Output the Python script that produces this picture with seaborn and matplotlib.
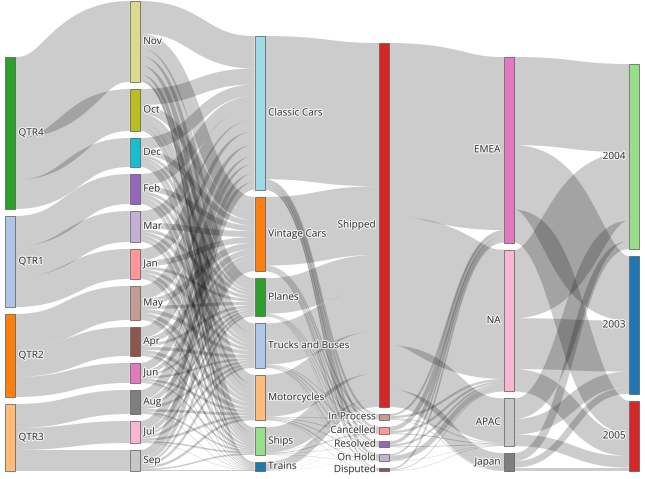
import numpy as np
import matplotlib
matplotlib.use("Agg")
import matplotlib.pyplot as plt
import matplotlib.patheffects as pe
from matplotlib.patches import Polygon, Rectangle
import seaborn as sns

sns.set_style("white")
plt.rcParams['font.family'] = ['Open Sans', 'DejaVu Sans']

# ---------------- data (sales in $K) ----------------
quarters = ["QTR4", "QTR1", "QTR2", "QTR3"]
months = ["Nov", "Oct", "Dec", "Feb", "Mar", "Jan", "May", "Apr", "Jun", "Aug", "Jul", "Sep"]
month_quarter = ["QTR4", "QTR4", "QTR4", "QTR1", "QTR1", "QTR1",
                 "QTR2", "QTR2", "QTR2", "QTR3", "QTR3", "QTR3"]
products = ["Classic Cars", "Vintage Cars", "Planes", "Trucks and Buses",
            "Motorcycles", "Ships", "Trains"]
month_product = [
    [830, 380, 190, 240, 235, 145, 48],   # Nov
    [410, 215, 110, 118, 120, 74, 25],    # Oct
    [295, 135, 70, 80, 90, 55, 15],       # Dec
    [305, 140, 75, 90, 85, 52, 19],       # Feb
    [300, 155, 80, 88, 95, 55, 18],       # Mar
    [295, 148, 76, 85, 92, 52, 18],       # Jan
    [345, 160, 85, 98, 100, 60, 20],      # May
    [285, 145, 72, 85, 88, 50, 15],       # Apr
    [200, 95, 50, 58, 60, 36, 12],        # Jun
    [240, 118, 60, 68, 70, 43, 14],       # Aug
    [220, 105, 55, 65, 65, 40, 12],       # Jul
    [205, 100, 52, 60, 62, 40, 17],       # Sep
]
statuses = ["Shipped", "In Process", "Cancelled", "Resolved", "On Hold", "Disputed"]
product_status = [
    [3657, 55, 60, 60, 70, 28],
    [1752, 30, 40, 25, 35, 14],
    [907, 15, 20, 12, 15, 6],
    [1047, 15, 25, 20, 20, 8],
    [1072, 15, 20, 20, 25, 10],
    [643, 10, 25, 10, 10, 4],
    [214, 5, 4, 4, 4, 2],
]
territories = ["EMEA", "NA", "APAC", "Japan"]
status_territory = [
    [4420, 3300, 1130, 442],
    [50, 60, 20, 15],
    [110, 60, 24, 0],
    [80, 50, 21, 0],
    [40, 130, 9, 0],
    [40, 20, 12, 0],
]
years = ["2004", "2003", "2005"]
territory_year = [
    [2250, 1650, 840],
    [1750, 1300, 570],
    [520, 400, 296],
    [204, 167, 86],
]

# ---------------- colours (tab20) ----------------
pal = sns.color_palette("tab20")
color_idx = {
    "QTR4": 4, "QTR1": 1, "QTR2": 2, "QTR3": 3,
    "Nov": 17, "Oct": 16, "Dec": 18, "Feb": 8, "Mar": 9, "Jan": 7,
    "May": 11, "Apr": 10, "Jun": 12, "Aug": 14, "Jul": 13, "Sep": 15,
    "Classic Cars": 19, "Vintage Cars": 2, "Planes": 4, "Trucks and Buses": 1,
    "Motorcycles": 3, "Ships": 5, "Trains": 0,
    "Shipped": 6, "In Process": 11, "Cancelled": 7, "Resolved": 8,
    "On Hold": 9, "Disputed": 10,
    "EMEA": 12, "NA": 13, "APAC": 15, "Japan": 14,
    "2004": 5, "2003": 0, "2005": 6,
}

# ---------------- build links ----------------
columns = [quarters, months, products, statuses, territories, years]
links = []  # (src, tgt, value)
for m, q, row in zip(months, month_quarter, month_product):
    links.append((q, m, sum(row)))
for m, row in zip(months, month_product):
    for p, v in zip(products, row):
        links.append((m, p, v))
for p, row in zip(products, product_status):
    for s, v in zip(statuses, row):
        links.append((p, s, v))
for s, row in zip(statuses, status_territory):
    for t, v in zip(territories, row):
        links.append((s, t, v))
for t, row in zip(territories, territory_year):
    for y, v in zip(years, row):
        links.append((t, y, v))
links = [l for l in links if l[2] > 0]

node_in, node_out = {}, {}
for s, t, v in links:
    node_out[s] = node_out.get(s, 0) + v
    node_in[t] = node_in.get(t, 0) + v
node_val = {n: max(node_in.get(n, 0), node_out.get(n, 0)) for col in columns for n in col}

# ---------------- layout (pixel-like data coords) ----------------
W, H = 645, 479
node_w = 10
pad = 7
top, bottom = 1, 471
x_left = [5 + i * 124.8 for i in range(len(columns))]
k = min((bottom - top - pad * (len(c) - 1)) / sum(node_val[n] for n in c) for c in columns)

pos = {}
for ci, col in enumerate(columns):
    total_h = sum(node_val[n] * k for n in col) + pad * (len(col) - 1)
    y = bottom - total_h
    for n in col:
        h = node_val[n] * k
        pos[n] = (x_left[ci], y, y + h)
        y += h + pad


def ymid(n):
    return (pos[n][1] + pos[n][2]) / 2


by_src, by_tgt = {}, {}
for l in links:
    by_src.setdefault(l[0], []).append(l)
    by_tgt.setdefault(l[1], []).append(l)
src_y, tgt_y = {}, {}
for n, ls in by_src.items():
    y = pos[n][1]
    for l in sorted(ls, key=lambda l: ymid(l[1])):
        src_y[l] = y
        y += l[2] * k
for n, ls in by_tgt.items():
    y = pos[n][1]
    for l in sorted(ls, key=lambda l: ymid(l[0])):
        tgt_y[l] = y
        y += l[2] * k

fig = plt.figure(figsize=(W / 100, H / 100), dpi=100)
ax = fig.add_axes([0, 0, 1, 1])
ax.set_xlim(0, W)
ax.set_ylim(H, 0)
ax.axis("off")

t = np.linspace(0, 1, 80)[:, None]
for l in links:
    s, tg, v = l
    x0 = pos[s][0] + node_w
    x1 = pos[tg][0]
    xm = (x0 + x1) / 2
    w = v * k
    ya = src_y[l] + w / 2
    yb = tgt_y[l] + w / 2
    P0, P1, P2, P3 = (np.array(p) for p in [(x0, ya), (xm, ya), (xm, yb), (x1, yb)])
    B = ((1 - t) ** 3) * P0 + 3 * ((1 - t) ** 2) * t * P1 + 3 * (1 - t) * t ** 2 * P2 + t ** 3 * P3
    D = 3 * ((1 - t) ** 2) * (P1 - P0) + 6 * (1 - t) * t * (P2 - P1) + 3 * t ** 2 * (P3 - P2)
    nrm = np.column_stack([-D[:, 1], D[:, 0]])
    nrm /= np.linalg.norm(nrm, axis=1)[:, None]
    upper = B - nrm * w / 2
    lower = B + nrm * w / 2
    poly = np.vstack([upper, lower[::-1]])
    ax.add_patch(Polygon(poly, closed=True, facecolor=(0, 0, 0, 0.2),
                         edgecolor="none", lw=0))

halo = [pe.withStroke(linewidth=1.6, foreground=(1, 1, 1, 0.8))]
for ci, col in enumerate(columns):
    for n in col:
        x, y0, y1 = pos[n]
        ax.add_patch(Rectangle((x, y0), node_w, y1 - y0,
                               facecolor=pal[color_idx[n]], edgecolor="#555555",
                               lw=0.5))
        if ci < 3:
            ax.text(x + node_w + 3.5, (y0 + y1) / 2, n, ha="left", va="center",
                    fontsize=7.2, color="#333333", path_effects=halo)
        else:
            ax.text(x - 3.5, (y0 + y1) / 2, n, ha="right", va="center",
                    fontsize=7.2, color="#333333", path_effects=halo)

fig.savefig("out.png", dpi=100)
